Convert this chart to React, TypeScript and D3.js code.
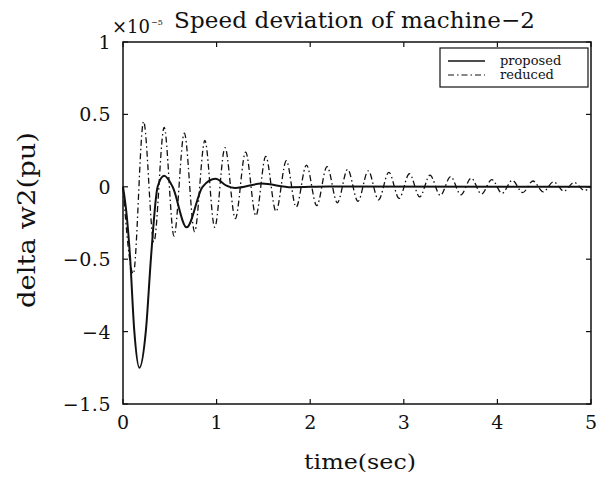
import React from "react";
import * as d3 from "d3";

const xTicks = [0, 1, 2, 3, 4, 5];
const xTickLabels = ["0", "1", "2", "3", "4", "5"];
const yTicks = [1, 0.5, 0, -0.5, -1, -1.5];
const yTickLabels = ["1", "0.5", "0", "\u22120.5", "\u22124", "\u22121.5"];

const proposedT = [0, 0.04, 0.075, 0.12, 0.175, 0.245, 0.3, 0.37, 0.44, 0.53, 0.68, 0.85, 0.99, 1.1, 1.2, 1.48, 1.8, 2.2, 5];
const proposedV = [0, -0.2, -0.48, -0.99, -1.25, -0.99, -0.48, 0, 0.076, 0, -0.28, 0, 0.055, 0.01, -0.008, 0.022, -0.003, 0.002, 0];

const reducedT = [0, 0.11, 0.22, 0.33, 0.44, 0.545, 0.655, 0.765, 0.875, 0.98, 1.09, 1.2, 1.31, 1.42, 1.525, 1.635, 1.745, 1.85, 1.96, 2.07, 2.18, 2.29, 2.4, 2.51, 2.62, 2.73, 2.84, 2.95, 3.06, 3.17, 3.28, 3.39, 3.5, 3.61, 3.72, 3.83, 3.94, 4.05, 4.16, 4.27, 4.38, 4.49, 4.6, 4.71, 4.82, 4.93, 5.0];
const reducedV = [0, -0.6, 0.45, -0.38, 0.41, -0.34, 0.37, -0.31, 0.32, -0.28, 0.27, -0.22, 0.24, -0.2, 0.21, -0.17, 0.18, -0.14, 0.15, -0.13, 0.14, -0.11, 0.12, -0.1, 0.11, -0.09, 0.1, -0.08, 0.09, -0.07, 0.08, -0.06, 0.07, -0.055, 0.06, -0.05, 0.05, -0.045, 0.045, -0.04, 0.04, -0.035, 0.035, -0.03, 0.03, -0.025, 0];

const seriesNames = ["proposed", "reduced"];

const FONT = "'DejaVu Serif', 'Liberation Serif', serif";

export default function App() {
  const left = 123, right = 591, top = 42, bottom = 404;
  const x = d3.scaleLinear().domain([0, 5]).range([left, right]);
  const y = d3.scaleLinear().domain([-1.5, 1]).range([bottom, top]);
  const line = d3
    .line<[number, number]>()
    .x((d) => x(d[0]))
    .y((d) => y(d[1]))
    .curve(d3.curveMonotoneX);
  const prop = proposedT.map((t, i) => [t, proposedV[i]] as [number, number]);
  const red = reducedT.map((t, i) => [t, reducedV[i]] as [number, number]);
  const tl = 5;
  return (
    <svg width={602} height={482} style={{ position: "absolute", left: 0, top: 0, background: "#fff" }}>
      <rect x={0} y={0} width={602} height={482} fill="#fff" />
      {/* curves */}
      <path d={line(red) || ""} fill="none" stroke="#111" strokeWidth={1.3} strokeDasharray="6,3,1.5,3" />
      <path d={line(prop) || ""} fill="none" stroke="#111" strokeWidth={2} />
      {/* frame */}
      <rect x={left} y={top} width={right - left} height={bottom - top} fill="none" stroke="#111" strokeWidth={1.5} />
      {xTicks.map((t, i) => (
        <g key={"x" + i}>
          <line x1={x(t)} x2={x(t)} y1={bottom} y2={bottom - tl} stroke="#111" strokeWidth={1.2} />
          <line x1={x(t)} x2={x(t)} y1={top} y2={top + tl} stroke="#111" strokeWidth={1.2} />
          <text x={x(t)} y={429} textAnchor="middle" fontFamily={FONT} fontSize={19} fill="#111">
            {xTickLabels[i]}
          </text>
        </g>
      ))}
      {yTicks.map((t, i) => (
        <g key={"y" + i}>
          <line x1={left} x2={left + tl} y1={y(t)} y2={y(t)} stroke="#111" strokeWidth={1.2} />
          <line x1={right} x2={right - tl} y1={y(t)} y2={y(t)} stroke="#111" strokeWidth={1.2} />
          <text x={111} y={y(t) + 7} textAnchor="end" fontFamily={FONT} fontSize={19} fill="#111" letterSpacing={0.5}>
            {yTickLabels[i]}
          </text>
        </g>
      ))}
      {/* multiplier */}
      <text x={112} y={33} fontFamily={FONT} fontSize={18} fill="#111">
        ×10
      </text>
      <text x={151} y={25} fontFamily={FONT} fontSize={8} fill="#111">
        −5
      </text>
      {/* title */}
      <text x={174} y={28} fontFamily={FONT} fontSize={23} fill="#111" textLength={361} lengthAdjust="spacing">
        Speed deviation of machine−2
      </text>
      {/* axis labels */}
      <text x={360} y={469} textAnchor="middle" fontFamily={FONT} fontSize={21} fill="#111" textLength={112} lengthAdjust="spacingAndGlyphs">
        time(sec)
      </text>
      <text
        transform="translate(35,220) rotate(-90)"
        textAnchor="middle"
        fontFamily={FONT}
        fontSize={24}
        fill="#111"
        textLength={176}
        lengthAdjust="spacingAndGlyphs"
      >
        delta w2(pu)
      </text>
      {/* legend */}
      <rect x={440} y={48} width={148} height={39} fill="#fff" stroke="#111" strokeWidth={1.2} />
      <line x1={448} x2={485} y1={61} y2={61} stroke="#111" strokeWidth={1.5} />
      <line x1={448} x2={485} y1={75} y2={75} stroke="#111" strokeWidth={1.2} strokeDasharray="6,3,1.5,3" />
      <text x={500} y={65} fontFamily={FONT} fontSize={13} fill="#111">
        {seriesNames[0]}
      </text>
      <text x={500} y={79} fontFamily={FONT} fontSize={13} fill="#111">
        {seriesNames[1]}
      </text>
    </svg>
  );
}
